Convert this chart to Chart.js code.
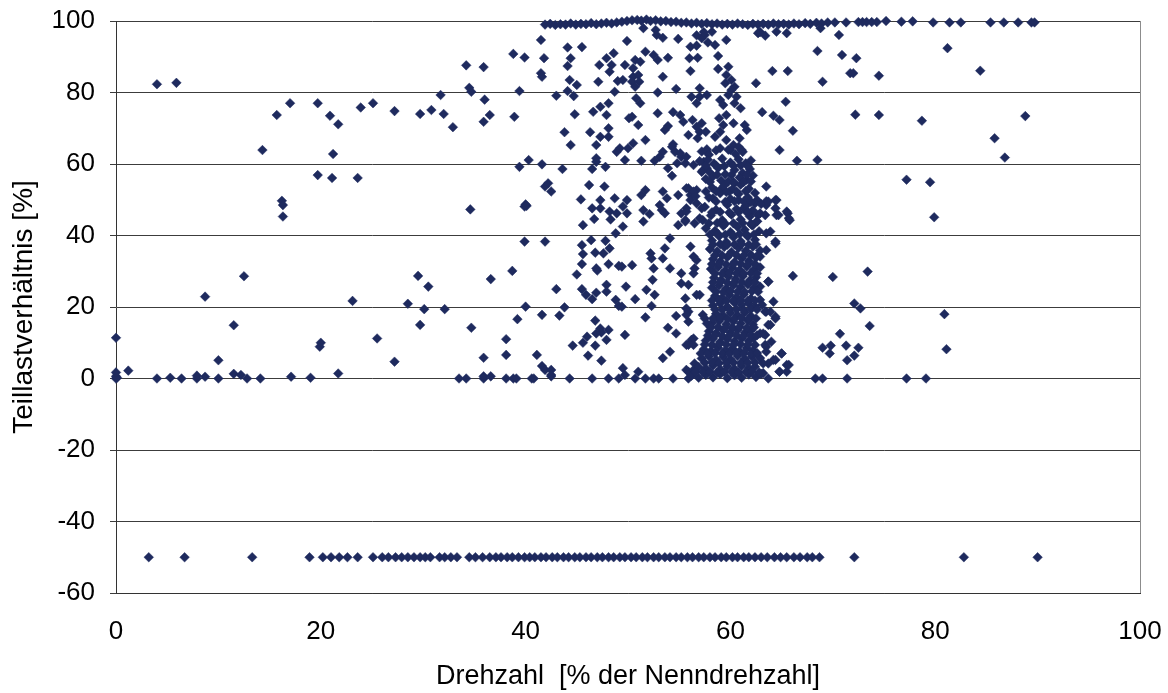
<!DOCTYPE html>
<html>
<head>
<meta charset="utf-8">
<script src="https://cdn.jsdelivr.net/npm/chart.js@4"></script>
<style>
  body { margin: 0; background: #fff; }
  #wrap { width: 1168px; height: 693px; }
</style>
</head>
<body>
<div id="wrap"><canvas id="chart"></canvas></div>
<script>
// Axis ticks
const xTicks = [0, 20, 40, 60, 80, 100];
const yTicks = [-60, -40, -20, 0, 20, 40, 60, 80, 100];

// Points sitting on the 100 % line
const topRow = [
  [41.9, 99.0], [42.4, 99.2], [42.9, 98.9], [43.4, 99.1], [43.9, 99.0], [44.4, 99.3], [44.9, 99.0],
  [45.4, 99.2], [45.9, 99.1], [46.4, 99.4], [46.9, 99.1], [47.4, 99.3], [47.9, 99.5], [48.4, 99.3],
  [48.9, 99.6], [49.4, 99.8], [49.9, 100.0], [50.4, 100.2], [50.9, 100.3], [51.3, 100.1], [51.8, 100.4],
  [52.2, 100.0], [52.7, 100.2], [53.2, 99.9], [53.7, 100.0], [54.2, 99.7], [54.7, 99.8], [55.2, 99.5],
  [55.7, 99.6], [56.2, 99.3], [56.7, 99.5], [57.2, 99.2], [57.7, 99.4], [58.2, 99.1], [58.7, 99.3],
  [59.2, 99.0], [59.7, 99.2], [60.2, 99.0], [60.7, 99.3], [61.2, 99.1], [61.7, 98.9], [62.2, 99.2],
  [62.7, 99.0], [63.2, 99.2], [63.7, 99.0], [64.2, 99.3], [64.7, 99.1], [65.2, 99.2], [65.7, 99.0],
  [66.2, 99.3], [66.7, 99.1], [67.3, 99.4], [67.8, 99.2], [68.4, 99.5], [68.9, 99.3], [69.5, 99.6],
  [70.2, 99.6], [71.3, 99.6], [72.5, 99.7], [72.9, 99.7], [73.3, 99.7], [73.8, 99.7], [74.3, 99.7],
  [75.2, 100.0], [76.7, 99.8], [77.8, 99.9], [79.8, 99.6], [81.4, 99.6], [82.5, 99.6], [85.4, 99.6],
  [86.7, 99.6], [88.1, 99.6], [89.4, 99.6], [89.7, 99.6]
];

// Points sitting on the -50 % line
const negRowX = [
  3.2, 6.7, 13.3, 18.9, 20.2, 21.0, 21.8, 22.6, 23.6, 25.1, 26.0, 26.6, 27.3, 27.9, 28.5, 29.1,
  29.7, 30.2, 30.7, 31.6, 32.1, 32.7, 33.3, 34.5, 35.1, 35.8, 36.5, 37.1, 37.6, 38.2, 38.7, 39.3,
  39.9, 40.4, 40.9, 41.5, 42.0, 42.6, 43.1, 43.7, 44.2, 44.8, 45.3, 45.9, 46.4, 47.0, 47.5, 48.1,
  48.6, 49.2, 49.7, 50.3, 50.8, 51.4, 51.9, 52.5, 53.0, 53.6, 54.1, 54.7, 55.2, 55.8, 56.3, 56.9,
  57.4, 58.0, 58.5, 59.1, 59.6, 60.2, 60.7, 61.3, 61.8, 62.4, 63.0, 63.6, 64.3, 64.9, 65.5, 66.2,
  66.8, 67.5, 68.0, 68.7, 72.1, 82.8, 90.0
];

// Points sitting on (or just above) the 0 % line
const zeroRow = [
  [0, 0], [0, 0.6], [0.1, 0.2], [4.0, 0], [5.3, 0.2], [6.4, 0], [7.9, 0], [7.9, 0.8], [8.7, 0.5],
  [10.0, 0], [11.5, 1.3], [12.2, 1.0], [12.8, 0], [14.1, 0], [17.1, 0.5], [19.0, 0.2], [33.5, 0],
  [34.2, 0], [35.9, 0], [35.9, 0.6], [36.6, 0.6], [38.1, 0], [38.8, 0], [39.1, 0], [40.6, 0],
  [40.8, 0], [42.5, 0.6], [44.3, 0], [46.5, 0], [48.1, 0], [49.1, 0], [50.7, 0], [51.7, 0],
  [52.5, 0], [53.0, 0], [54.4, 0], [55.9, 0], [63.7, 0], [68.3, 0], [69.0, 0], [71.4, 0],
  [77.2, 0], [79.1, 0]
];

// Scattered points, left part
const sparseLeft = [
  [0, 11.4], [0, 1.7], [1.2, 2.2], [4.0, 82.3], [5.9, 82.7], [17.0, 77.0], [15.7, 73.7], [19.7, 77.0],
  [20.9, 73.5], [21.7, 71.1], [23.9, 75.8], [25.1, 77.0], [27.2, 74.8], [29.7, 74.0], [14.3, 63.9],
  [21.2, 62.8], [19.7, 56.9], [21.1, 56.1], [23.6, 56.1], [16.2, 49.7], [16.3, 48.5], [16.3, 45.3],
  [8.7, 22.9], [10.0, 5.1], [11.5, 14.9], [12.5, 28.6], [19.9, 8.9], [20.0, 10.0], [21.7, 1.4],
  [23.1, 21.7], [25.5, 11.2], [27.2, 4.7], [28.5, 20.9], [29.5, 28.7], [29.7, 15.0]
];

// Scattered points, 30-49 % speed
const sparseMid = [
  [41.5, 94.7], [44.1, 92.6], [45.5, 92.7], [38.8, 90.8], [39.9, 89.8], [41.8, 89.6], [44.4, 89.6],
  [34.2, 87.6], [35.9, 87.1], [44.1, 87.4], [47.2, 87.7], [47.9, 89.6], [48.6, 91.0], [48.4, 87.7],
  [48.2, 85.8], [41.5, 85.4], [41.6, 84.4], [44.3, 83.5], [45.0, 82.1], [47.1, 83.0], [49.0, 83.2],
  [34.5, 81.3], [34.7, 80.2], [31.7, 79.3], [39.4, 80.4], [43.0, 79.1], [44.1, 80.4], [44.7, 79.0],
  [48.7, 80.2], [36.0, 78.0], [30.8, 75.1], [32.0, 74.0], [32.9, 70.3], [35.9, 71.8], [36.5, 73.7],
  [38.9, 73.2], [44.8, 73.9], [46.6, 74.6], [47.3, 76.0], [48.1, 77.0], [47.9, 73.7], [43.8, 68.9],
  [44.4, 65.3], [46.3, 68.9], [47.3, 67.6], [48.1, 70.0], [48.1, 67.6], [46.9, 65.3], [48.9, 63.4],
  [46.9, 61.6], [46.9, 60.6], [46.5, 58.6], [47.8, 59.2], [39.4, 59.2], [40.3, 61.1], [41.6, 59.9],
  [43.6, 58.6], [41.9, 53.7], [42.2, 54.6], [42.5, 52.3], [46.2, 54.1], [47.7, 53.7], [40.0, 48.7],
  [45.4, 50.1], [47.3, 49.9], [48.7, 50.4],
  [34.6, 47.3], [39.9, 48.1], [40.1, 48.3], [46.5, 47.6], [47.3, 47.6], [48.2, 46.7], [48.9, 46.2],
  [46.7, 44.6], [48.3, 44.5], [45.6, 42.9], [48.8, 40.6], [39.9, 38.3], [41.9, 38.3], [45.5, 37.3],
  [46.4, 38.7], [47.8, 38.5], [45.6, 34.8], [46.8, 35.2], [47.6, 35.0], [48.2, 36.4], [45.5, 32.0],
  [46.9, 30.8], [47.0, 30.2], [48.1, 32.0], [49.1, 31.5], [30.5, 25.7], [36.6, 27.8], [38.7, 30.1],
  [45.0, 29.1], [43.0, 25.0], [45.5, 25.0], [45.9, 23.4], [46.5, 22.2], [46.9, 24.0], [47.9, 26.2],
  [47.9, 24.3], [48.8, 22.0], [49.1, 20.3], [30.1, 19.4], [32.1, 19.4], [40.0, 20.1], [39.2, 16.6],
  [41.6, 17.8], [43.8, 19.9], [43.3, 17.6], [34.7, 14.2], [38.1, 11.0], [46.8, 16.2], [47.3, 14.0],
  [47.4, 12.9], [46.9, 12.6], [48.1, 13.6], [47.9, 10.8], [46.0, 11.7], [45.6, 10.0], [46.8, 9.2],
  [44.6, 9.2], [46.1, 6.4], [47.4, 5.0], [35.9, 5.8], [38.1, 6.6], [41.1, 6.6], [41.6, 3.5],
  [41.9, 2.4], [42.5, 2.4], [42.5, 1.0]
];

// Scattered points, 49-67 % speed, upper half
const sparseUpper = [
  [51.5, 98.0], [52.7, 97.5], [52.8, 96.1], [49.9, 94.4], [53.4, 95.3], [54.9, 95.0], [56.1, 92.8],
  [56.7, 93.1], [57.2, 95.2], [57.5, 96.1], [57.8, 94.0], [58.5, 93.3], [59.6, 94.7], [58.2, 97.0],
  [62.7, 96.6], [63.4, 95.9], [64.5, 97.0], [65.5, 96.6], [56.7, 96.0], [57.4, 96.9], [62.9, 96.9],
  [51.7, 91.4], [50.7, 89.1], [49.7, 87.7], [50.5, 86.8], [51.2, 88.6], [52.5, 90.5], [52.9, 89.1],
  [53.9, 89.7], [56.0, 89.6], [56.8, 89.7], [58.8, 90.2], [50.5, 84.4], [51.0, 84.9], [50.4, 83.0],
  [51.1, 83.0], [50.7, 81.6], [49.5, 83.5], [53.4, 84.4], [56.1, 86.0], [58.8, 86.6], [59.8, 87.2],
  [59.6, 84.9], [59.5, 82.6], [60.1, 83.5], [60.4, 81.6], [64.1, 86.0], [65.6, 86.0], [62.5, 82.6],
  [54.7, 81.0], [52.9, 80.0], [57.0, 81.2], [56.2, 78.8], [57.0, 78.8], [57.7, 79.3], [56.7, 77.0],
  [59.0, 77.9], [59.3, 76.5], [59.8, 79.3], [60.1, 80.7], [60.6, 78.8], [60.4, 77.0], [61.0, 75.6],
  [50.8, 78.4], [51.2, 77.0], [65.4, 77.4], [63.1, 74.5], [64.2, 73.5], [64.8, 72.3], [66.1, 69.3],
  [50.4, 73.2], [50.1, 72.8], [51.0, 70.9], [52.9, 74.2], [54.4, 74.5], [55.1, 73.7], [55.4, 71.8],
  [53.9, 70.6], [53.6, 69.5], [54.4, 65.5], [56.3, 72.3], [56.7, 70.4], [57.2, 71.4], [57.0, 69.0],
  [57.6, 69.0], [56.8, 67.2], [55.9, 68.1], [58.9, 72.8], [59.3, 70.9], [59.6, 73.7], [60.3, 71.4],
  [59.0, 69.0], [58.5, 67.6], [59.6, 66.7], [60.3, 65.3], [60.9, 67.2], [61.4, 70.9], [61.6, 69.5],
  [61.1, 63.9], [60.8, 64.8], [60.0, 63.9], [59.0, 64.4], [57.7, 64.1], [51.7, 66.7], [50.5, 65.8],
  [49.2, 64.4], [50.0, 64.4], [49.7, 61.1], [51.3, 60.9], [53.4, 63.4], [53.1, 62.0], [52.6, 60.9],
  [54.3, 64.8], [54.6, 63.4], [55.2, 62.0], [55.6, 60.2], [54.8, 60.2], [53.9, 58.8], [54.3, 56.7],
  [56.4, 59.7], [57.4, 60.6], [57.2, 57.8], [57.7, 58.8], [66.5, 60.9], [64.8, 63.9], [63.5, 53.7],
  [62.6, 49.9], [63.5, 49.6], [64.5, 49.9], [49.9, 49.9], [51.3, 51.3], [51.7, 52.7], [53.4, 52.3],
  [53.8, 50.4], [54.9, 51.3], [55.9, 53.2], [56.7, 52.7], [56.1, 51.3], [55.1, 63.0], [55.7, 62.0],
  [57.7, 63.4]
];

// Scattered points, 49-67 % speed, lower half
const sparseLower = [
  [49.5, 48.1], [49.9, 46.2], [49.5, 42.5], [51.5, 47.1], [52.1, 46.0], [51.5, 43.9], [53.1, 48.5],
  [53.6, 46.2], [53.3, 47.1], [54.9, 42.9], [55.6, 43.9], [55.2, 46.2], [55.7, 47.6], [54.1, 39.2],
  [53.6, 36.4], [52.2, 35.0], [52.3, 33.6], [52.5, 30.8], [53.4, 33.6], [54.1, 30.8], [50.4, 31.7],
  [49.4, 31.3], [55.2, 29.4], [49.8, 25.7], [51.8, 24.8], [52.4, 27.6], [52.6, 23.4], [50.7, 22.2],
  [52.3, 20.3], [49.4, 20.1], [51.7, 17.1], [54.7, 17.5], [55.9, 18.7], [55.9, 15.9], [53.9, 14.2],
  [54.7, 12.6], [49.7, 12.2], [55.9, 9.4], [56.2, 10.8], [54.1, 7.5], [53.4, 5.7], [49.5, 2.9],
  [51.0, 1.9], [49.7, 1.0], [55.7, 2.4], [56.5, 4.2],
  [66.1, 28.7], [63.7, 27.1], [64.2, 21.5], [64.4, 17.3], [63.7, 15.0], [63.5, 18.7], [62.9, 22.0],
  [63.2, 12.6], [63.5, 8.9], [65.0, 7.0], [65.5, 3.8], [64.8, 1.9], [63.2, 1.5], [64.2, 5.2],
  [62.9, 5.7], [64.5, 45.7], [65.6, 46.2], [65.8, 44.3], [63.5, 40.6], [64.4, 37.8], [62.6, 43.9],
  [62.7, 45.7], [62.2, 42.9], [61.7, 46.2], [63.5, 48.5],
  [55.7, 53.2], [56.4, 52.3], [56.1, 49.9], [56.7, 49.0], [57.2, 47.6], [55.7, 46.7], [55.6, 44.3],
  [56.5, 43.4], [57.3, 44.3], [58.3, 50.4], [59.0, 52.7], [59.9, 52.3], [60.4, 54.6], [60.8, 49.9],
  [61.3, 47.6], [61.8, 49.9], [62.1, 46.7], [62.4, 49.0], [62.9, 46.2], [63.4, 45.7], [63.7, 49.5],
  [64.4, 49.9], [64.4, 47.6], [64.7, 45.7], [65.5, 46.7], [65.7, 44.8], [56.1, 36.9], [56.4, 34.1],
  [56.7, 33.1], [63.9, 41.1], [64.4, 38.3], [63.5, 35.9], [62.9, 34.1],
  [56.5, 30.8], [56.4, 29.4], [55.2, 26.6], [55.9, 26.2], [56.7, 23.4], [57.0, 23.4], [63.7, 27.1],
  [62.9, 25.7], [55.6, 22.4], [55.7, 19.6], [55.7, 17.8], [57.3, 17.8], [57.5, 16.8], [57.7, 15.4],
  [63.1, 20.6], [63.4, 18.7], [63.9, 18.7], [64.4, 16.8], [63.9, 15.0], [62.9, 12.6], [63.4, 12.2],
  [56.4, 11.2], [55.7, 9.4], [56.4, 9.4], [64.0, 10.3], [63.4, 9.4], [63.5, 7.5], [65.0, 7.0],
  [64.4, 5.2], [63.7, 4.2], [63.2, 4.2], [65.7, 3.8], [64.8, 1.9], [65.5, 1.9], [55.9, 1.9], [56.4, 2.4]
];

// Dense column around 60 % speed
const cluster = [
  [57.2, 63.5], [57.9, 62.6], [58.6, 63.8], [59.8, 64.0], [60.5, 62.8], [61.2, 63.4],
  [57.0, 60.8], [57.8, 61.2], [58.4, 60.1], [59.2, 61.5], [60.0, 60.4], [60.8, 61.3], [61.5, 60.2], [62.0, 61.0],
  [57.3, 58.2], [58.0, 57.6], [58.8, 58.9], [60.4, 58.3], [61.2, 57.5], [61.9, 58.6],
  [57.6, 55.8], [58.3, 56.5], [59.1, 55.4], [60.9, 56.2], [61.6, 55.6], [62.2, 56.8],
  [58.2, 53.4], [59.4, 54.0], [60.2, 53.0], [61.0, 54.2], [61.8, 53.1],
  [56.6, 51.0], [57.9, 50.6], [59.0, 51.8], [60.0, 50.3], [60.8, 51.6], [61.7, 50.7], [62.4, 51.9],
  [57.5, 48.0], [58.6, 47.2], [59.7, 48.6], [60.6, 47.4], [61.5, 48.3], [62.2, 47.0], [63.0, 48.8],
  [57.0, 44.8], [58.1, 45.6], [59.2, 44.3], [60.1, 45.8], [61.0, 44.5], [61.9, 45.3], [62.6, 44.0],
  [57.6, 42.0], [58.5, 41.3], [59.3, 42.7], [60.0, 41.0], [60.7, 42.4], [61.4, 41.6], [62.1, 42.9], [62.8, 41.2],
  [58.2, 38.6], [58.9, 39.8], [59.6, 38.2], [60.3, 39.5], [61.0, 38.4], [61.7, 39.7], [62.4, 38.8],
  [58.0, 36.2], [58.7, 35.6], [59.4, 36.8], [60.1, 35.4], [60.8, 36.5], [61.5, 35.7], [62.2, 36.9], [62.9, 35.8],
  [58.3, 33.4], [59.0, 32.8], [59.7, 33.9], [60.4, 32.6], [61.1, 33.6], [61.8, 32.9], [62.5, 33.8],
  [58.1, 30.6], [58.8, 31.2], [59.5, 30.2], [60.2, 31.0], [60.9, 30.4], [61.6, 31.3], [62.3, 30.5], [62.9, 31.1],
  [58.4, 28.2], [59.1, 27.6], [59.8, 28.5], [60.5, 27.8], [61.2, 28.6], [61.9, 27.5], [62.5, 28.3],
  [58.2, 25.4], [58.9, 26.0], [59.6, 25.2], [60.3, 26.1], [61.0, 25.6], [61.7, 26.3], [62.3, 25.3],
  [58.5, 23.1], [59.2, 22.6], [59.9, 23.4], [60.6, 22.8], [61.3, 23.5], [62.0, 22.4],
  [58.3, 20.4], [59.0, 21.0], [59.7, 20.1], [60.4, 21.2], [61.1, 20.6], [61.8, 20.9], [62.4, 20.2],
  [58.6, 18.1], [59.3, 17.6], [60.0, 18.4], [60.7, 17.7], [61.4, 18.5], [62.0, 17.5],
  [58.2, 15.5], [58.9, 16.1], [59.6, 15.2], [60.3, 16.0], [61.0, 15.4], [61.7, 16.2], [62.2, 15.1],
  [57.9, 13.2], [58.6, 12.7], [59.3, 13.5], [60.0, 12.9], [60.7, 13.6], [61.4, 12.8], [62.0, 13.4],
  [57.6, 10.6], [58.3, 11.1], [59.0, 10.2], [59.7, 11.0], [60.4, 10.4], [61.1, 11.2], [61.8, 10.5], [62.3, 11.4],
  [57.4, 8.2], [58.1, 7.7], [58.8, 8.6], [59.5, 7.9], [60.2, 8.4], [60.9, 7.6], [61.6, 8.5], [62.2, 7.8],
  [57.2, 5.6], [57.9, 6.2], [58.6, 5.3], [59.3, 6.0], [60.0, 5.4], [60.7, 6.3], [61.4, 5.5], [62.1, 6.1],
  [56.9, 3.2], [57.6, 2.8], [58.3, 3.6], [59.0, 2.6], [59.7, 3.4], [60.4, 2.7], [61.1, 3.5], [61.8, 2.9], [62.4, 3.3],
  [56.2, 0.8], [56.9, 0.2], [57.6, 1.0], [58.3, 0.3], [59.0, 1.2], [59.7, 0.1], [60.4, 0.9], [61.1, 0.2],
  [61.8, 1.1], [62.5, 0.4], [63.0, 1.3]
];

// More points packed in between the rows of the dense column
const clusterFill = [
  [56.6, 1.8], [57.3, 1.8], [58.0, 1.9], [58.7, 1.7], [59.4, 1.8], [60.1, 1.9], [60.8, 1.7], [61.5, 1.8], [62.1, 1.9], [62.8, 1.7],
  [57.5, 4.4], [58.2, 4.5], [58.9, 4.3], [59.6, 4.4], [60.3, 4.5], [61.0, 4.3], [61.7, 4.4], [62.4, 4.5],
  [57.1, 7.0], [57.8, 6.9], [58.5, 7.1], [59.2, 7.0], [59.9, 6.9], [60.6, 7.1], [61.3, 7.0], [62.0, 6.9], [62.6, 7.1],
  [57.5, 9.5], [58.2, 9.4], [58.9, 9.6], [59.6, 9.5], [60.3, 9.4], [61.0, 9.6], [61.7, 9.5], [62.4, 9.4],
  [57.8, 12.0], [58.5, 12.1], [59.2, 11.9], [59.9, 12.0], [60.6, 12.1], [61.3, 11.9], [62.0, 12.0], [62.6, 12.1],
  [58.1, 14.3], [58.8, 14.4], [59.5, 14.2], [60.2, 14.3], [60.9, 14.4], [61.6, 14.2], [62.3, 14.3],
  [58.3, 16.8], [59.0, 16.9], [59.7, 16.7], [60.4, 16.8], [61.1, 16.9], [61.8, 16.7], [62.5, 16.8],
  [58.5, 19.3], [59.2, 19.2], [59.9, 19.4], [60.6, 19.3], [61.3, 19.2], [62.0, 19.4], [62.6, 19.3],
  [58.2, 21.8], [58.9, 21.9], [59.6, 21.7], [60.3, 21.8], [61.0, 21.9], [61.7, 21.7], [62.4, 21.8],
  [58.6, 24.3], [59.3, 24.2], [60.0, 24.4], [60.7, 24.3], [61.4, 24.2], [62.1, 24.4], [62.7, 24.3],
  [58.3, 26.9], [59.0, 27.0], [59.7, 26.8], [60.4, 26.9], [61.1, 27.0], [61.8, 26.8], [62.4, 26.9],
  [58.5, 29.4], [59.2, 29.3], [59.9, 29.5], [60.6, 29.4], [61.3, 29.3], [62.0, 29.5], [62.6, 29.4],
  [58.2, 32.0], [58.9, 32.1], [59.6, 31.9], [60.3, 32.0], [61.0, 32.1], [61.7, 31.9], [62.4, 32.0],
  [58.5, 34.5], [59.2, 34.4], [59.9, 34.6], [60.6, 34.5], [61.3, 34.4], [62.0, 34.6], [62.7, 34.5],
  [58.3, 37.5], [59.0, 37.6], [59.7, 37.4], [60.4, 37.5], [61.1, 37.6], [61.8, 37.4], [62.5, 37.5],
  [58.0, 40.3], [58.8, 40.4], [59.5, 40.2], [60.2, 40.3], [60.9, 40.4], [61.6, 40.2], [62.3, 40.3],
  [57.9, 43.4], [58.7, 43.5], [59.5, 43.3], [60.3, 43.4], [61.2, 43.5], [62.0, 43.3],
  [58.2, 46.5], [59.0, 46.6], [59.9, 46.4], [60.8, 46.5], [61.7, 46.6],
  [58.6, 49.5], [59.5, 49.4], [60.4, 49.6], [61.3, 49.5], [62.0, 49.4],
  [57.6, 52.3], [58.6, 52.4], [59.6, 52.2], [60.6, 52.3], [61.5, 52.4],
  [58.0, 55.0], [59.8, 55.1], [60.3, 54.9], [61.3, 55.0], [62.0, 55.1],
  [58.7, 57.0], [59.5, 57.1], [60.1, 56.9], [61.6, 57.0],
  [57.6, 59.5], [58.6, 59.6], [59.4, 59.4], [60.3, 59.5], [61.0, 59.6], [61.7, 59.4]
];

// Scattered points right of 66 %
const sparseRight = [
  [68.8, 98.0], [70.6, 96.1], [68.5, 91.6], [70.9, 90.5], [72.3, 89.6], [81.2, 92.4], [71.7, 85.4],
  [72.0, 85.4], [74.5, 84.7], [84.4, 86.1], [69.0, 83.0], [72.2, 73.8], [74.5, 73.7], [78.7, 72.1],
  [88.8, 73.4], [85.8, 67.2], [86.8, 61.8], [68.5, 61.1], [77.2, 55.6], [79.5, 54.9], [79.9, 45.1],
  [70.0, 28.4], [73.4, 29.9], [72.1, 21.0], [72.7, 19.6], [80.9, 18.0], [73.6, 14.7], [70.7, 12.5],
  [69.0, 8.6], [69.8, 9.2], [69.7, 7.0], [71.3, 9.2], [72.5, 8.6], [72.1, 6.4], [71.4, 5.1], [81.1, 8.2]
];

const allPoints = []
  .concat(topRow, zeroRow, sparseLeft, sparseMid, sparseUpper, sparseLower, cluster, clusterFill, sparseRight)
  .map((p) => ({ x: p[0], y: p[1] }))
  .concat(negRowX.map((x) => ({ x: x, y: -50 })));

const FONT = "'Liberation Sans', Arial, sans-serif";
const MARK = "#1e2a5e";

// Grey frame on the right side of the plot area, like the original
const frame = {
  id: "frame",
  beforeDatasetsDraw(chart) {
    const a = chart.chartArea;
    const ctx = chart.ctx;
    ctx.save();
    ctx.strokeStyle = "#8c8c8c";
    ctx.lineWidth = 1;
    ctx.beginPath();
    ctx.moveTo(a.right + 0.5, a.top);
    ctx.lineTo(a.right + 0.5, a.bottom);
    ctx.stroke();
    ctx.restore();
  },
};

new Chart(document.getElementById("chart"), {
  type: "scatter",
  data: {
    datasets: [
      {
        data: allPoints,
        pointStyle: "rectRot",
        pointRadius: 4.8,
        pointBorderWidth: 0.5,
        backgroundColor: MARK,
        borderColor: MARK,
        clip: false,
      },
    ],
  },
  options: {
    responsive: true,
    maintainAspectRatio: false,
    animation: false,
    layout: { padding: { left: 0, right: 28, top: 21, bottom: 0 } },
    plugins: { legend: { display: false }, tooltip: { enabled: false } },
    scales: {
      x: {
        type: "linear",
        min: 0,
        max: 100,
        afterBuildTicks: (s) => { s.ticks = xTicks.map((v) => ({ value: v })); },
        afterFit: (s) => {
          s.height = 100;
          s.paddingLeft = 0;
          s.paddingRight = 0;
        },
        grid: { display: false, drawTicks: false },
        border: { display: true, color: "#333" },
        ticks: { color: "#000", padding: 23, font: { family: FONT, size: 26 } },
        title: {
          display: true,
          text: "Drehzahl  [% der Nenndrehzahl]",
          color: "#000",
          padding: { top: 0, bottom: 0 },
          font: { family: FONT, size: 27 },
        },
      },
      y: {
        type: "linear",
        min: -60,
        max: 100,
        afterBuildTicks: (s) => { s.ticks = yTicks.map((v) => ({ value: v })); },
        afterFit: (s) => {
          s.width = 116;
          s.paddingTop = 0;
          s.paddingBottom = 0;
        },
        grid: { color: "#3c3c3c", lineWidth: 1, tickLength: 6 },
        border: { display: true, color: "#333" },
        ticks: { color: "#000", padding: 15, font: { family: FONT, size: 26 } },
        title: {
          display: true,
          text: "Teillastverhältnis [%]",
          color: "#000",
          padding: { top: 7, bottom: 0 },
          font: { family: FONT, size: 28 },
        },
      },
    },
  },
  plugins: [frame],
});
</script>
</body>
</html>
